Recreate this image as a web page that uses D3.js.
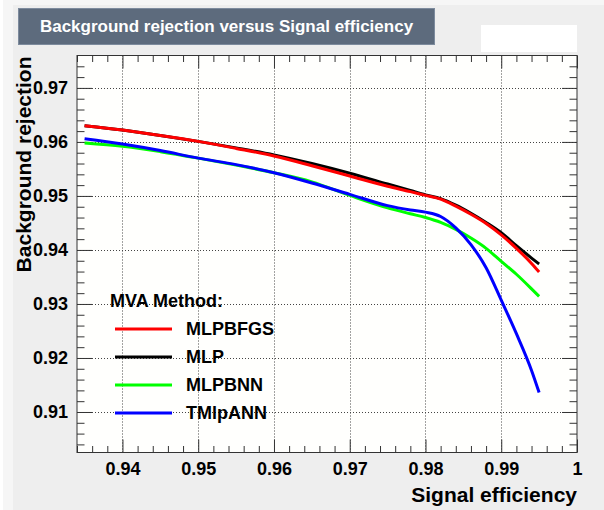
<!DOCTYPE html>
<html>
<head>
<meta charset="utf-8">
<script src="https://cdn.jsdelivr.net/npm/d3@7"></script>
<style>
  html, body { margin: 0; padding: 0; background: #ffffff; }
  svg { display: block; font-family: 'Liberation Sans', Arial, Helvetica, sans-serif; }
  .axis path { display: none; }
  .axis line { stroke: #333; }
  .axis text { font-size: 18px; font-weight: bold; fill: #000; }
</style>
</head>
<body>
<div id="chart"></div>
<script>
// signal efficiency sample points
const effX = [0.935, 0.940, 0.945, 0.950, 0.955, 0.960, 0.965, 0.970, 0.975, 0.978,
              0.980, 0.982, 0.984, 0.986, 0.988, 0.990, 0.992, 0.994, 0.995]

// background rejection per method
const mlpbfgs = [0.9630, 0.9622, 0.9612, 0.9601, 0.9588, 0.9574, 0.9556, 0.9537, 0.9518, 0.9508,
                 0.9501, 0.9494, 0.9481, 0.9466, 0.9449, 0.9428, 0.9403, 0.9375, 0.9359]
const mlp     = [0.9630, 0.9622, 0.9612, 0.9601, 0.9589, 0.9576, 0.9560, 0.9542, 0.9522, 0.9510,
                 0.9502, 0.9495, 0.9483, 0.9468, 0.9451, 0.9432, 0.9408, 0.9385, 0.9374]
const mlpbnn  = [0.9598, 0.9592, 0.9582, 0.9570, 0.9557, 0.9543, 0.9526, 0.9501, 0.9478, 0.9467,
                 0.9460, 0.9451, 0.9438, 0.9422, 0.9403, 0.9379, 0.9355, 0.9328, 0.9314]
const tmlpann = [0.9606, 0.9596, 0.9584, 0.9570, 0.9558, 0.9543, 0.9524, 0.9503, 0.9482, 0.9474,
                 0.9470, 0.9462, 0.9441, 0.9410, 0.9367, 0.9307, 0.9245, 0.9177, 0.9136]

const methodNames = ['MLPBFGS', 'MLP', 'MLPBNN', 'TMlpANN']
const methodColors = ['#ff0000', '#000000', '#00ff00', '#0000ff']
const methodValues = [mlpbfgs, mlp, mlpbnn, tmlpann]
const drawOrder = [1, 0, 2, 3]   // black under red, blue over green

const xTicks = [0.94, 0.95, 0.96, 0.97, 0.98, 0.99, 1.0]
const yTicks = [0.91, 0.92, 0.93, 0.94, 0.95, 0.96, 0.97]
const xDomain = [0.934, 1.0]
const yDomain = [0.9025, 0.976]

const W = 604, H = 510
const frame = { left: 77, right: 577, top: 55.5, bottom: 452.5 }

const svg = d3.select('#chart').append('svg')
  .attr('width', W).attr('height', H)

// canvas
svg.append('rect').attr('x', 3).attr('y', 0).attr('width', W).attr('height', H).attr('fill', '#f6f6f6')
svg.append('rect').attr('x', 13).attr('y', 5).attr('width', W - 13).attr('height', H - 5).attr('fill', '#eeeeee')

const x = d3.scaleLinear().domain(xDomain).range([frame.left, frame.right])
const y = d3.scaleLinear().domain(yDomain).range([frame.bottom, frame.top])

/* frame fill */
svg.append('rect')
  .attr('x', frame.left).attr('y', frame.top)
  .attr('width', frame.right - frame.left).attr('height', frame.bottom - frame.top)
  .attr('fill', '#fffffd')

/* grid */
const grid = svg.append('g').attr('stroke', '#444').attr('stroke-width', 1).attr('stroke-dasharray', '1,2')
grid.selectAll('.gx').data(xTicks.filter(d => d < 1)).join('line')
  .attr('x1', d => Math.round(x(d)) + 0.5).attr('x2', d => Math.round(x(d)) + 0.5)
  .attr('y1', frame.top).attr('y2', frame.bottom)
grid.selectAll('.gy').data(yTicks).join('line')
  .attr('y1', d => Math.round(y(d)) + 0.5).attr('y2', d => Math.round(y(d)) + 0.5)
  .attr('x1', frame.left).attr('x2', frame.right)

/* minor tick values */
const xMinor = d3.range(0, 34).map(i => +(0.934 + i * 0.002).toFixed(3)).filter(v => !xTicks.some(t => Math.abs(t - v) < 1e-6))
const yMinor = d3.range(0, 37).map(i => +(0.904 + i * 0.002).toFixed(3)).filter(v => v < yDomain[1] && !yTicks.some(t => Math.abs(t - v) < 1e-6))
const fmt = d => d3.format('.2~f')(d)

/* bottom axis */
svg.append('g').attr('class', 'axis').attr('transform', `translate(0,${frame.bottom})`)
  .call(d3.axisBottom(x).tickValues(xTicks).tickSize(-13).tickPadding(10).tickFormat(fmt))
svg.append('g').attr('class', 'axis').attr('transform', `translate(0,${frame.bottom})`)
  .call(d3.axisBottom(x).tickValues(xMinor).tickSize(-6.5).tickFormat(''))
/* top axis */
svg.append('g').attr('class', 'axis').attr('transform', `translate(0,${frame.top})`)
  .call(d3.axisTop(x).tickValues(xTicks).tickSize(-13).tickFormat(''))
svg.append('g').attr('class', 'axis').attr('transform', `translate(0,${frame.top})`)
  .call(d3.axisTop(x).tickValues(xMinor).tickSize(-6.5).tickFormat(''))
/* left axis */
svg.append('g').attr('class', 'axis').attr('transform', `translate(${frame.left},0)`)
  .call(d3.axisLeft(y).tickValues(yTicks).tickSize(-15).tickPadding(9).tickFormat(fmt))
svg.append('g').attr('class', 'axis').attr('transform', `translate(${frame.left},0)`)
  .call(d3.axisLeft(y).tickValues(yMinor).tickSize(-7.5).tickFormat(''))
/* right axis */
svg.append('g').attr('class', 'axis').attr('transform', `translate(${frame.right},0)`)
  .call(d3.axisRight(y).tickValues(yTicks).tickSize(-15).tickFormat(''))
svg.append('g').attr('class', 'axis').attr('transform', `translate(${frame.right},0)`)
  .call(d3.axisRight(y).tickValues(yMinor).tickSize(-7.5).tickFormat(''))

/* curves */
const line = d3.line()
  .x((d, i) => x(effX[i]))
  .y(d => y(d))
  .curve(d3.curveMonotoneX)

svg.append('g').selectAll('path')
  .data(drawOrder)
  .join('path')
  .attr('d', k => line(methodValues[k]))
  .attr('fill', 'none')
  .attr('stroke', k => methodColors[k])
  .attr('stroke-width', 3)
  .attr('stroke-linejoin', 'round')

/* frame border */
svg.append('rect')
  .attr('x', frame.left).attr('y', frame.top)
  .attr('width', frame.right - frame.left).attr('height', frame.bottom - frame.top)
  .attr('fill', 'none').attr('stroke', '#333').attr('stroke-width', 1)

/* legend */
const legend = svg.append('g')
legend.append('text')
  .attr('x', 110).attr('y', 307)
  .attr('font-size', 18).attr('font-weight', 'bold')
  .text('MVA Method:')
const entry = legend.selectAll('.entry').data(methodNames).join('g')
  .attr('transform', (d, i) => `translate(0,${329 + i * 28})`)
entry.append('line')
  .attr('x1', 115).attr('x2', 172)
  .attr('stroke', (d, i) => methodColors[i]).attr('stroke-width', 3)
entry.append('text')
  .attr('x', 186).attr('y', 6)
  .attr('font-size', 18).attr('font-weight', 'bold')
  .text(d => d)

/* axis titles */
svg.append('text')
  .attr('x', frame.right).attr('y', 502)
  .attr('text-anchor', 'end')
  .attr('font-size', 21).attr('font-weight', 'bold')
  .text('Signal efficiency')
svg.append('text')
  .attr('transform', `translate(31,${frame.top + 1}) rotate(-90)`)
  .attr('text-anchor', 'end')
  .attr('font-size', 21).attr('font-weight', 'bold')
  .text('Background rejection')

/* title box */
svg.append('rect')
  .attr('x', 18.5).attr('y', 8.5).attr('width', 416).attr('height', 36)
  .attr('fill', '#5d6b7d').attr('stroke', '#7d8b9d').attr('stroke-width', 1)
svg.append('text')
  .attr('x', 226.5).attr('y', 32)
  .attr('text-anchor', 'middle')
  .attr('font-size', 17).attr('font-weight', 'bold').attr('fill', '#ffffff')
  .text('Background rejection versus Signal efficiency')

/* empty white box top right */
svg.append('rect')
  .attr('x', 481).attr('y', 25).attr('width', 96).attr('height', 27)
  .attr('fill', '#ffffff')
</script>
</body>
</html>
